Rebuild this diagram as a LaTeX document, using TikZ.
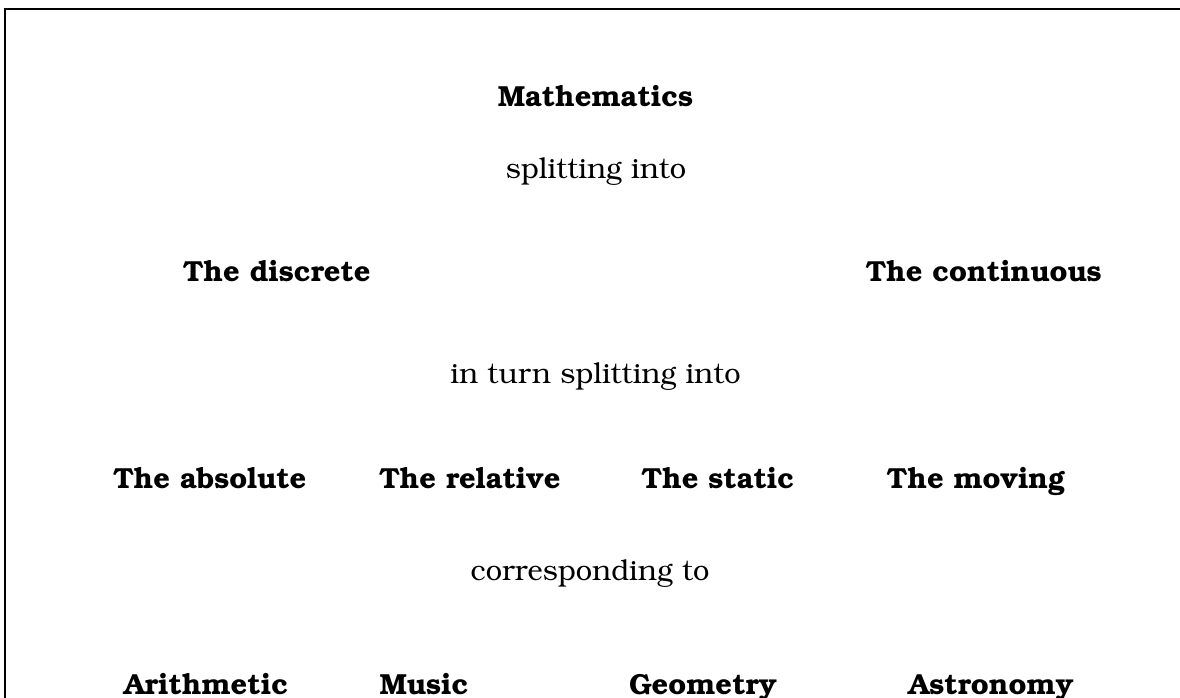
\documentclass[tikz,border=0pt]{standalone}
\usepackage[T1]{fontenc}
\usepackage{bookman}
\tikzset{
  lbl/.style={inner sep=0pt, font=\fontsize{29}{34}\selectfont},
  head/.style={lbl, font=\fontsize{29}{34}\selectfont\bfseries},
  frameline/.style={line width=2pt, line cap=rect}
}
\begin{document}
\begin{tikzpicture}[x=1pt,y=-1pt]
\useasboundingbox (0,0) rectangle (1180,698);
\draw[frameline] (5,700) -- (5,9) -- (1182,9);
\node[head, anchor=base] (math) at (595.5,107) {Mathematics};
\node[lbl, anchor=base] (split1) at (596,178) {splitting into};
\node[head, anchor=base] (disc) at (277,281) {The discrete};
\node[head, anchor=base east] (cont) at (1102,281) {The continuous};
\node[lbl, anchor=base] (split2) at (595.5,383) {in turn splitting into};
\node[head, anchor=base] (abs) at (210,488) {The absolute};
\node[head, anchor=base] (rel) at (470,488) {The relative};
\node[head, anchor=base] (stat) at (718,488) {The static};
\node[head, anchor=base] (mov) at (976,488) {The moving};
\node[lbl, anchor=base] (corr) at (590,580) {corresponding to};
\node[head, anchor=base] (arith) at (206,694) {Arithmetic};
\node[head, anchor=base] (music) at (424,694) {Music};
\node[head, anchor=base] (geom) at (703,694) {Geometry};
\node[head, anchor=base] (astro) at (991,694) {Astronomy};
\end{tikzpicture}
\end{document}
